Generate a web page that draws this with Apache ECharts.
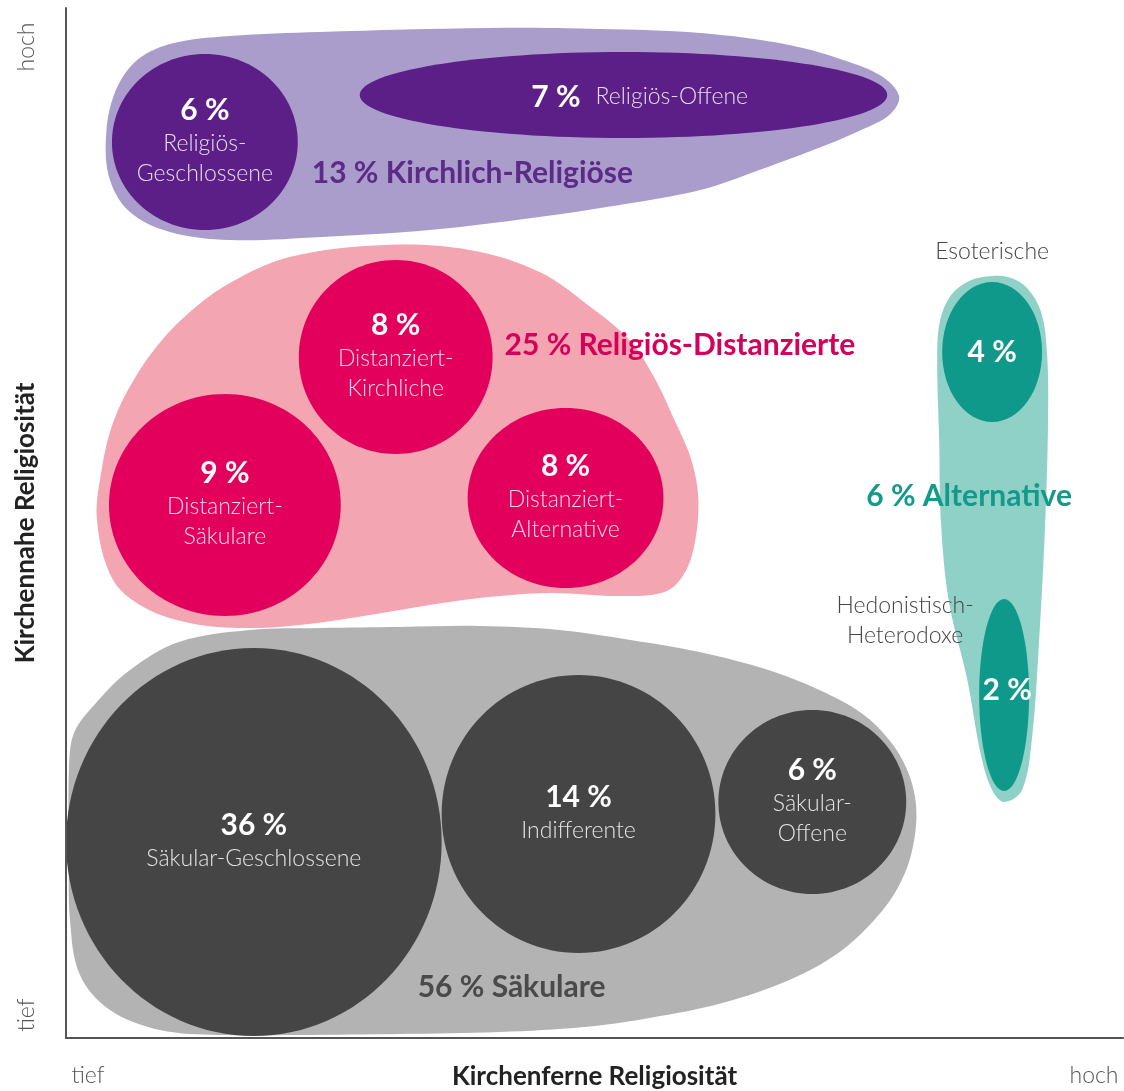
<!DOCTYPE html>
<html>
<head>
<meta charset="utf-8">
<title>Religiöse Typen</title>
<script src="https://cdn.jsdelivr.net/npm/echarts@6/dist/echarts.min.js"></script>
<style>
html, body { margin: 0; padding: 0; background: #fff; }
#chart { width: 1124px; height: 1091px; }
</style>
</head>
<body>
<div id="chart"></div>
<script>
// Achsen: x = kirchenferne, y = kirchennahe Religiosität (beliebige Einheiten)
const axisTicks = [['tief', 22], ['hoch', 1029]];
const axisTicksY = [['tief', 23], ['hoch', 991]];

// Gruppen
const groupNames = ['Kirchlich-Religiöse', 'Religiös-Distanzierte', 'Säkulare', 'Alternative'];
const groupShares = [13, 25, 56, 6];
const groupLabelX = [246, 439, 352, 801];
const groupLabelY = [865, 693, 51, 542];

// Umrisse der Gruppen
const outlineKR = [[40,900],[48,943],[69,976],[104,994],[164,1002],[254,1006],[424,1010],[534,1009],[635,1005],[724,993],[784,976],[819,960],[834,941],[824,923],[796,908],[761,893],[694,868],[635,848],[554,833],[466,820],[364,808],[256,801],[164,798],[104,806],[64,826],[44,858]];
const outlineRD = [[31,518],[36,570],[47,615],[66,655],[92,693],[124,726],[164,755],[224,781],[320,793],[404,788],[474,766],[525,731],[564,698],[588,662],[609,618],[626,578],[633,538],[629,493],[618,463],[599,446],[554,442],[484,445],[414,440],[364,433],[304,423],[234,413],[174,410],[119,416],[74,433],[46,460]];
const outlineS = [[3,268],[8,305],[30,335],[64,368],[113,396],[184,408],[255,410],[334,411],[414,412],[494,408],[565,398],[634,386],[703,368],[754,348],[796,325],[824,298],[842,268],[851,231],[847,188],[833,151],[809,118],[773,85],[724,58],[657,35],[584,20],[519,11],[434,6],[334,4],[234,3],[154,3],[94,8],[44,28],[14,63],[4,118],[3,188]];
const outlineA = [[927,762],[904,757],[886,743],[875,718],[872,684],[874,598],[876,512],[884,435],[902,359],[916,282],[927,248],[939,236],[957,248],[967,301],[974,397],[980,512],[983,618],[982,684],[976,726],[962,750],[946,760]];

// Typen
const typeNames = ['Religiös-Geschlossene', 'Religiös-Offene', 'Distanziert-Kirchliche', 'Distanziert-Säkulare', 'Distanziert-Alternative', 'Säkular-Geschlossene', 'Indifferente', 'Säkular-Offene', 'Esoterische', 'Hedonistisch-Heterodoxe'];
const typeShares = [6, 7, 8, 9, 8, 36, 14, 6, 4, 2];
const typeGroup = [0, 0, 1, 1, 1, 2, 2, 2, 3, 3];
const typeX = [139, 558, 330, 159, 500, 188, 513, 747, 927, 939];
const typeY = [896, 943, 681, 533, 540, 196, 224, 236, 686, 343];
const typeRx = [93, 264, 97, 116, 98, 188, 137, 94, 50, 25];
const typeRy = [88, 43, 97, 111, 90, 194, 139, 92, 70, 96];

const outlines = [outlineKR, outlineRD, outlineS, outlineA];
const lightColors = ['#aa9dcc', '#f3a5b1', '#b3b3b3', '#8fd1c7'];
const darkColors = ['#5b1f87', '#e2005c', '#454545', '#0f998b'];
const labelColors = ['#5c2a87', '#d6005a', '#4a4a4a', '#149a8b'];
const FONT = 'Lato, "Noto Sans", sans-serif';
const nameFill = 'rgba(255,255,255,0.85)';

// wo der Name steht, wenn nicht im Kreis
const labelMode = {
    'Religiös-Offene': 'inline',
    'Esoterische': 'above',
    'Hedonistisch-Heterodoxe': 'left'
};

let chart = echarts.init(document.getElementById('chart'));

function txt(x, y, text, size, weight, fill, align) {
    return {
        type: 'text', x: x, y: y, silent: true,
        style: {
            text: text, fill: fill, fontSize: size, fontWeight: weight,
            fontFamily: FONT, align: align || 'center', verticalAlign: 'middle',
            lineHeight: 30
        }
    };
}

function renderGroup(params, api) {
    let g = params.dataIndex;
    let pts = outlines[g].map(p => api.coord(p));
    return {
        type: 'polygon', silent: true,
        shape: { points: pts, smooth: 0.35 },
        style: { fill: lightColors[g] }
    };
}

function renderType(params, api) {
    let i = params.dataIndex;
    let c = api.coord([api.value(0), api.value(1)]);
    let s = api.size([api.value(2), api.value(3)]);
    let g = typeGroup[i];
    let num = typeShares[i] + ' %';
    let name = typeNames[i];
    let mode = labelMode[name] || 'inside';
    let kids = [{
        type: 'ellipse', silent: true,
        shape: { cx: c[0], cy: c[1], rx: s[0], ry: s[1] },
        style: { fill: darkColors[g] }
    }];
    if (mode === 'inline') {
        kids.push(txt(c[0] - 43, c[1] + 2, num, 30, 'bold', '#fff', 'right'));
        kids.push(txt(c[0] - 28, c[1] + 2, name, 23, 300, nameFill, 'left'));
    } else if (mode === 'above') {
        kids.push(txt(c[0], c[1], num, 30, 'bold', '#fff'));
        kids.push(txt(c[0], c[1] - s[1] - 30, name, 23, 300, '#444'));
    } else if (mode === 'left') {
        kids.push(txt(c[0] + 3, c[1] - 5, num, 30, 'bold', '#fff'));
        kids.push(txt(c[0] - 99, c[1] - 74, name.replace('-', '-\n'), 23, 300, '#444'));
    } else {
        let lines = s[0] > 150 ? [name] : name.replace('-', '-\n').split('\n');
        let n = lines.length;
        let numY = c[1] - 15 * n - 2;
        kids.push(txt(c[0], numY, num, 30, 'bold', '#fff'));
        kids.push(txt(c[0], numY + 34 + (n - 1) * 15, lines.join('\n'), 23, 300, nameFill));
    }
    return { type: 'group', children: kids };
}

function renderGroupLabel(params, api) {
    let g = params.dataIndex;
    let c = api.coord([api.value(0), api.value(1)]);
    return txt(c[0], c[1], groupShares[g] + ' % ' + groupNames[g], 30, 'bold', labelColors[g], 'left');
}

function tickName(list) {
    return function (v) {
        let hit = list.find(t => Math.abs(t[1] - v) < 1);
        return hit ? hit[0] : '';
    };
}

let axisLabelStyle = { fontSize: 23, fontWeight: 300, color: '#555', fontFamily: FONT };
let axisNameStyle = { fontSize: 26, fontWeight: 'bold', color: '#222', fontFamily: FONT };

chart.setOption({
    animation: false,
    backgroundColor: '#fff',
    grid: { left: 66, right: 1, top: 8, bottom: 53, containLabel: false, outerBoundsMode: 'none' },
    xAxis: {
        type: 'value', min: 0, max: 1058, z: 10,
        name: 'Kirchenferne Religiosität', nameLocation: 'middle', nameGap: 26,
        nameMoveOverlap: false,
        nameTextStyle: axisNameStyle,
        axisLine: { show: true, lineStyle: { color: '#555', width: 2 } },
        axisTick: { show: false },
        splitLine: { show: false },
        axisLabel: Object.assign({
            customValues: axisTicks.map(t => t[1]),
            formatter: tickName(axisTicks),
            margin: 26
        }, axisLabelStyle)
    },
    yAxis: {
        type: 'value', min: 0, max: 1030, z: 10,
        name: 'Kirchennahe Religiosität', nameLocation: 'middle', nameGap: 27, nameRotate: 90,
        nameMoveOverlap: false,
        nameTextStyle: axisNameStyle,
        axisLine: { show: true, lineStyle: { color: '#555', width: 2 } },
        axisTick: { show: false },
        splitLine: { show: false },
        axisLabel: Object.assign({
            customValues: axisTicksY.map(t => t[1]),
            formatter: tickName(axisTicksY),
            rotate: 90,
            margin: 28
        }, axisLabelStyle)
    },
    series: [
        {
            type: 'custom', renderItem: renderGroup, silent: true, z: 1,
            data: groupLabelX.map((x, i) => [x, groupLabelY[i]]),
            encode: { x: 0, y: 1 }
        },
        {
            type: 'custom', renderItem: renderType, silent: true, z: 2,
            data: typeX.map((x, i) => [x, typeY[i], typeRx[i], typeRy[i]]),
            encode: { x: 0, y: 1 }
        },
        {
            type: 'custom', renderItem: renderGroupLabel, silent: true, z: 3,
            data: groupLabelX.map((x, i) => [x, groupLabelY[i]]),
            encode: { x: 0, y: 1 }
        }
    ]
});
</script>
</body>
</html>
